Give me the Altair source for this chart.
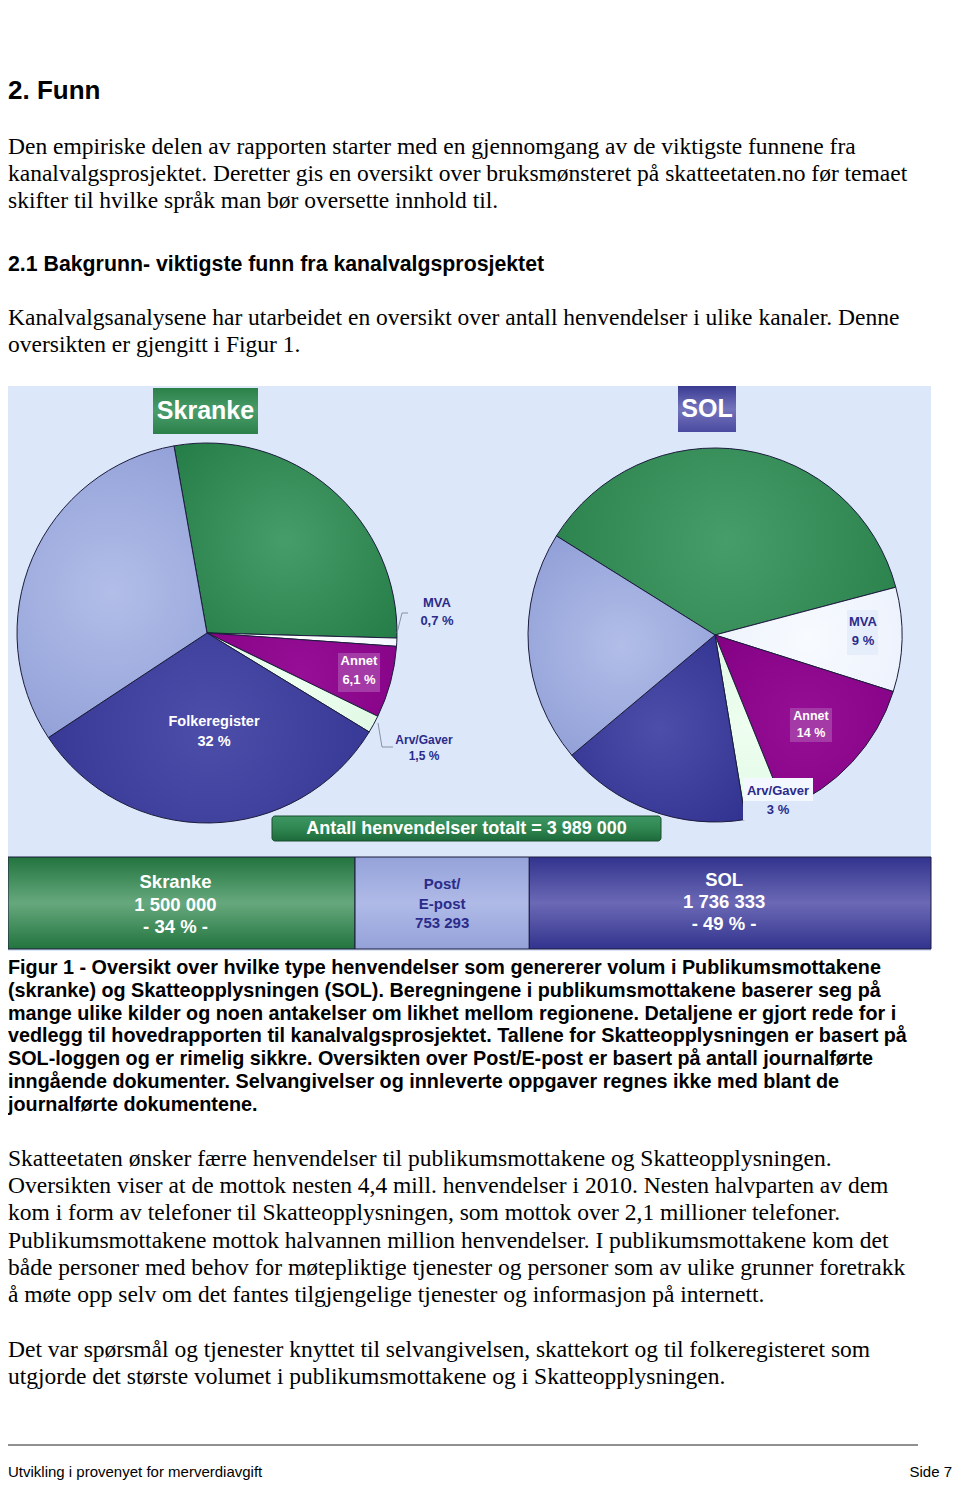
import math
import altair as alt
import pandas as pd

# ---------------- data ----------------
skranke_kategorier = ["Grønn", "MVA", "Annet", "Arv/Gaver", "Folkeregister", "Lyseblå"]
skranke_andel = [28.2, 0.7, 6.1, 1.5, 32.0, 31.5]

sol_kategorier = ["Grønn", "MVA", "Annet", "Arv/Gaver", "Folkeregister", "Lyseblå"]
sol_andel = [37.0, 9.0, 14.0, 3.5, 16.5, 20.0]

kanaler = ["Skranke", "Post/E-post", "SOL"]
kanal_antall = [1500000, 753293, 1736333]
kanal_etiketter = ["Skranke\n1 500 000\n- 34 % -", "Post/\nE-post\n753 293", "SOL\n1 736 333\n- 49 % -"]

skranke_mva_etikett = ["MVA", "0,7 %"]
skranke_annet_etikett = ["Annet", "6,1 %"]
skranke_folk_etikett = ["Folkeregister", "32 %"]
skranke_arv_etikett = ["Arv/Gaver", "1,5 %"]
sol_mva_etikett = ["MVA", "9 %"]
sol_annet_etikett = ["Annet", "14 %"]
sol_arv_etikett = ["Arv/Gaver", "3 %"]
totalt_tekst = "Antall henvendelser  totalt = 3 989 000"

overskrift_1 = "2. Funn"
avsnitt_1 = [
    "Den empiriske delen av rapporten starter med en gjennomgang av de viktigste funnene fra",
    "kanalvalgsprosjektet. Deretter gis en oversikt over bruksmønsteret på skatteetaten.no før temaet",
    "skifter til hvilke språk man bør oversette innhold til.",
]
overskrift_2 = "2.1 Bakgrunn- viktigste funn fra kanalvalgsprosjektet"
avsnitt_2 = [
    "Kanalvalgsanalysene har utarbeidet en oversikt over antall henvendelser i ulike kanaler. Denne",
    "oversikten er gjengitt i Figur 1.",
]
figurtekst = [
    "Figur 1 - Oversikt over hvilke type henvendelser som genererer volum  i Publikumsmottakene",
    "(skranke) og Skatteopplysningen (SOL). Beregningene i publikumsmottakene baserer seg på",
    "mange ulike kilder og noen antakelser om likhet mellom regionene. Detaljene er gjort rede for i",
    "vedlegg til hovedrapporten til kanalvalgsprosjektet. Tallene for Skatteopplysningen er basert på",
    "SOL-loggen og er rimelig sikkre. Oversikten over Post/E-post er basert på antall journalførte",
    "inngående dokumenter. Selvangivelser og innleverte oppgaver regnes ikke med blant de",
    "journalførte dokumentene.",
]
avsnitt_3 = [
    "Skatteetaten ønsker færre henvendelser til publikumsmottakene og Skatteopplysningen.",
    "Oversikten viser at de mottok nesten 4,4 mill. henvendelser i 2010. Nesten halvparten av dem",
    "kom i form av telefoner til Skatteopplysningen, som mottok over 2,1 millioner telefoner.",
    "Publikumsmottakene mottok halvannen million henvendelser. I publikumsmottakene kom det",
    "både personer med behov for møtepliktige tjenester og personer som av ulike grunner foretrakk",
    "å møte opp selv om det fantes tilgjengelige tjenester og informasjon på internett.",
]
avsnitt_4 = [
    "Det var spørsmål og tjenester knyttet til selvangivelsen, skattekort og til folkeregisteret som",
    "utgjorde det største volumet i publikumsmottakene og i Skatteopplysningen.",
]
bunntekst_venstre = "Utvikling i provenyet for merverdiavgift"
bunntekst_hoyre = "Side 7"

# ---------------- styles ----------------
SERIF = "Liberation Serif, Times New Roman, serif"
SANS = "Liberation Sans, Arial, sans-serif"
DARKBLUE = "#2b2b8a"
BG = "#dce8fa"
OUTLINE = "#1c1c3c"


def radial(c_in, c_out):
    return alt.RadialGradient(
        gradient="radial",
        stops=[alt.GradientStop(color=c_in, offset=0), alt.GradientStop(color=c_out, offset=1)],
        x1=0.5, y1=0.5, r1=0, x2=0.5, y2=0.5, r2=0.7,
    )


def vertical(colors):
    n = len(colors) - 1
    return alt.LinearGradient(
        gradient="linear",
        stops=[alt.GradientStop(color=c, offset=i / n) for i, c in enumerate(colors)],
        x1=0, y1=0, x2=0, y2=1,
    )


slice_fill = {
    "Grønn": radial("#479d69", "#227a44"),
    "MVA": radial("#ffffff", "#eef3fd"),
    "Annet": radial("#960f96", "#830083"),
    "Arv/Gaver": radial("#eefff0", "#ddf7e2"),
    "Folkeregister": radial("#4d4daa", "#30308e"),
    "Lyseblå": radial("#b2bee8", "#8a99d4"),
}
sol_fill = dict(slice_fill)
sol_fill["MVA"] = radial("#f8fbff", "#e9f0fc")

dummy = pd.DataFrame({"_": [0]})


def box(x, x2, y, y2, fill, stroke=None, sw=1, corner=0):
    kw = dict(fill=fill)
    if stroke:
        kw.update(stroke=stroke, strokeWidth=sw)
    if corner:
        kw.update(cornerRadius=corner)
    return alt.Chart(dummy).mark_rect(**kw).encode(
        x=alt.value(x), x2=alt.value(x2), y=alt.value(y), y2=alt.value(y2)
    )


def line(x, y, x2, y2, color="#8890a8", w=1):
    return alt.Chart(dummy).mark_rule(color=color, strokeWidth=w).encode(
        x=alt.value(x), x2=alt.value(x2), y=alt.value(y), y2=alt.value(y2)
    )


def text(lines, x, y, size, font, color="#000000", weight="normal", align="left", lh=None):
    # y = centre of the first line
    s = "\n".join(lines) if isinstance(lines, list) else lines
    kw = dict(text=s, lineBreak="\n", font=font, fontSize=size, fontWeight=weight,
              color=color, align=align, baseline="middle")
    if lh:
        kw["lineHeight"] = lh
    return alt.Chart(dummy).mark_text(**kw).encode(x=alt.value(x), y=alt.value(y))


def pie(kat, andel, cx, cy, r, start_deg, fills):
    df = pd.DataFrame({"kat": kat, "andel": andel, "rekkefolge": list(range(len(kat)))})
    a0 = math.radians(start_deg)
    base = (
        alt.Chart(df)
        .transform_window(slutt="sum(andel)", sort=[alt.SortField("rekkefolge")], frame=[None, 0])
        .transform_calculate(start="datum.slutt - datum.andel")
    )
    out = []
    for k in kat:
        out.append(
            base.transform_filter(alt.datum.kat == k)
            .mark_arc(radius=r, fill=fills[k], stroke=OUTLINE, strokeWidth=1)
            .encode(
                theta=alt.Theta("start:Q", stack=None,
                                scale=alt.Scale(domain=[0, 100], range=[a0, a0 + 2 * math.pi])),
                theta2="slutt:Q",
                x=alt.value(cx),
                y=alt.value(cy),
            )
        )
    return out


# ---------------- bar ----------------
bar_df = pd.DataFrame({"kanal": kanaler, "antall": kanal_antall,
                       "etikett": kanal_etiketter, "rekkefolge": [0, 1, 2]})
bar_base = (
    alt.Chart(bar_df)
    .transform_window(b1="sum(antall)", sort=[alt.SortField("rekkefolge")], frame=[None, 0])
    .transform_calculate(b0="datum.b1 - datum.antall")
    .transform_calculate(midt="(datum.b0 + datum.b1) / 2")
)
xs = alt.Scale(domain=[0, sum(kanal_antall)], range=[0, 923])
bar_fill = {
    "Skranke": vertical(["#22743e", "#66a87d", "#22743e"]),
    "Post/E-post": vertical(["#95a2d9", "#afbae7", "#95a2d9"]),
    "SOL": vertical(["#32338e", "#6b69b5", "#32338e"]),
}
bar_layers = []
for k in kanaler:
    bar_layers.append(
        bar_base.transform_filter(alt.datum.kanal == k)
        .mark_rect(fill=bar_fill[k], stroke=OUTLINE, strokeWidth=1)
        .encode(x=alt.X("b0:Q", scale=xs, axis=None), x2="b1:Q",
                y=alt.value(849), y2=alt.value(941))
    )
bar_text_style = {
    "Skranke": dict(color="white", fontSize=18.5, lineHeight=22.5, dx=-6, y=874),
    "Post/E-post": dict(color=DARKBLUE, fontSize=15, lineHeight=19.5, dx=0, y=876),
    "SOL": dict(color="white", fontSize=18.5, lineHeight=22, dx=-6, y=872),
}
for k in kanaler:
    st = bar_text_style[k]
    bar_layers.append(
        bar_base.transform_filter(alt.datum.kanal == k)
        .mark_text(lineBreak="\n", fontWeight="bold", align="center", baseline="middle",
                   color=st["color"], fontSize=st["fontSize"], font=SANS,
                   lineHeight=st["lineHeight"], dx=st["dx"])
        .encode(x=alt.X("midt:Q", scale=xs, axis=None), y=alt.value(st["y"]), text="etikett:N")
    )

# ---------------- assemble ----------------
layers = []
layers.append(box(0, 923, 378, 943, BG))
layers += pie(skranke_kategorier, skranke_andel, 199, 625, 190, 350, slice_fill)
layers += pie(sol_kategorier, sol_andel, 707, 627, 187, 302, sol_fill)

# title boxes
layers.append(box(145, 250, 380, 426, vertical(["#2b8049", "#4a9d6b", "#2b8049"])))
layers.append(text("Skranke", 197.5, 403, 25, SANS, "white", "bold", "center"))
layers.append(box(670, 728, 378, 424, vertical(["#3a3a92", "#7474bc", "#4a4aa0"])))
layers.append(text("SOL", 699, 401, 25, SANS, "white", "bold", "center"))

# Skranke labels
layers.append(line(389, 625, 394, 605))
layers.append(line(394, 605, 400, 605))
layers.append(text(skranke_mva_etikett, 429, 595, 13, SANS, DARKBLUE, "bold", "center", 18))
layers.append(box(330, 372, 645, 684, "#a33aa6"))
layers.append(text(skranke_annet_etikett, 351, 653, 13, SANS, "white", "bold", "center", 19))
layers.append(text(skranke_folk_etikett, 206, 714, 14.5, SANS, "white", "bold", "center", 20))
layers.append(line(370, 715, 374, 739))
layers.append(line(374, 739, 385, 739))
layers.append(text(skranke_arv_etikett, 416, 732, 12, SANS, DARKBLUE, "bold", "center", 16))

# SOL labels
layers.append(box(839, 870, 602, 647, "#e6eefc"))
layers.append(text(sol_mva_etikett, 855, 614, 13, SANS, DARKBLUE, "bold", "center", 19))
layers.append(box(782, 824, 700, 734, "#a33aa6"))
layers.append(text(sol_annet_etikett, 803, 708, 12.5, SANS, "white", "bold", "center", 17))
layers.append(box(735, 805, 770, 812, BG))
layers.append(box(735, 805, 770, 793, "#f3f7ff"))
layers.append(text(sol_arv_etikett, 770, 783, 13, SANS, DARKBLUE, "bold", "center", 19))

# total box
layers.append(box(264, 653, 808, 833, vertical(["#3d9763", "#2f8650", "#1d6a3a"]),
                  stroke="#1b4d2e", sw=1, corner=3))
layers.append(text(totalt_tekst, 458.5, 821, 18, SANS, "white", "bold", "center"))

layers += bar_layers

# document text
layers.append(text(overskrift_1, 0, 83, 26, SANS, "#000000", "bold"))
layers.append(text(avsnitt_1, 0, 139, 23.5, SERIF, "#000000", "normal", "left", 27))
layers.append(text(overskrift_2, 0, 257, 21.3, SANS, "#000000", "bold"))
layers.append(text(avsnitt_2, 0, 310, 23.5, SERIF, "#000000", "normal", "left", 27))
layers.append(text(figurtekst, 0, 960, 19.8, SANS, "#000000", "bold", "left", 22.8))
layers.append(text(avsnitt_3, 0, 1151, 23.5, SERIF, "#000000", "normal", "left", 27.2))
layers.append(text(avsnitt_4, 0, 1342, 23.5, SERIF, "#000000", "normal", "left", 27))
layers.append(line(0, 1437, 910, 1437, "#222222", 1.2))
layers.append(text(bunntekst_venstre, 0, 1464, 15, SANS, "#000000", "normal"))
layers.append(text(bunntekst_hoyre, 944, 1464, 15, SANS, "#000000", "normal", "right"))

chart = (
    alt.layer(*layers)
    .resolve_scale(theta="independent", x="independent")
    .properties(width=944, height=1474, padding=0, background="white",
                autosize=alt.AutoSizeParams(type="none"))
    .configure_view(stroke=None)
)

chart.save("out.html", embed_options={"renderer": "svg", "actions": False})
